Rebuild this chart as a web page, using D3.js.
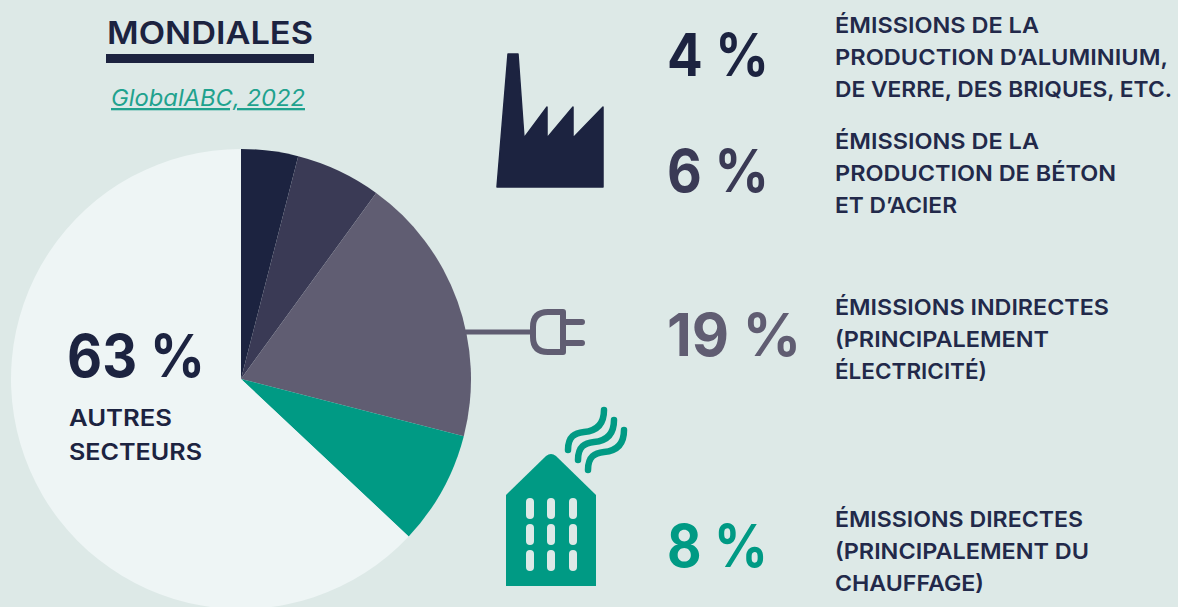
<!DOCTYPE html>
<html>
<head>
  <meta charset="utf-8" />
  <title>Émissions mondiales</title>
  <script src="https://d3js.org/d3.v7.min.js"></script>
  <style>
    html, body { margin: 0; padding: 0; background: #dde9e7; overflow: hidden; }
    svg { display: block; }
    text { font-family: Inter, sans-serif; }
  </style>
</head>
<body>
  <svg id="chart" width="1178" height="607"></svg>
  <script>
    // pie slices, clockwise from the top
    var categories = ["aluminium", "beton", "indirectes", "directes", "autres"];
    var values = [4, 6, 19, 8, 63];
    var valueLabels = ["4 %", "6 %", "19 %", "8 %"];
    var descriptions = [
      ["ÉMISSIONS DE LA", "PRODUCTION D’ALUMINIUM,", "DE VERRE, DES BRIQUES, ETC."],
      ["ÉMISSIONS DE LA", "PRODUCTION DE BÉTON", "ET D’ACIER"],
      ["ÉMISSIONS INDIRECTES", "(PRINCIPALEMENT", "ÉLECTRICITÉ)"],
      ["ÉMISSIONS DIRECTES", "(PRINCIPALEMENT DU", "CHAUFFAGE)"]
    ];
    // widths measured on the picture, so the substitute font lines up
    var descriptionWidths = [
      [204, 333, 337],
      [204, 281, 122],
      [274, 214, 152],
      [248, 254, 149]
    ];
    var colors = ["#1c2340", "#3a3a55", "#605d72", "#009a84", "#eef5f5"];

    var svg = d3.select("#chart");
    var dark = "#1c2340";
    var teal = "#009a84";

    // pie
    var pie = d3.pie().sort(null).value(function (d) { return d; });
    var arc = d3.arc().innerRadius(0).outerRadius(230);

    svg.append("g")
      .attr("transform", "translate(241,379)")
      .selectAll("path")
      .data(pie(values))
      .enter().append("path")
      .attr("d", arc)
      .attr("fill", function (d, i) { return colors[i]; });

    function fitted(x, y, size, weight, fill, width, str) {
      return svg.append("text").attr("x", x).attr("y", y)
        .attr("font-size", size).attr("font-weight", weight).attr("fill", fill)
        .attr("textLength", width).attr("lengthAdjust", "spacingAndGlyphs")
        .text(str);
    }

    // title
    fitted(107, 44, 31, 600, dark, 206, "MONDIALES");
    svg.append("rect").attr("x", 106).attr("y", 54).attr("width", 208).attr("height", 9).attr("fill", dark);
    fitted(111, 106, 23, 400, "#1fa28e", 194, "GlobalABC, 2022")
      .attr("font-style", "italic")
      .attr("text-decoration", "underline");

    // label inside the big slice
    fitted(67, 377, 59, 700, dark, 138, "63 %");
    fitted(69, 426, 22.5, 600, dark, 103, "AUTRES");
    fitted(69, 460, 22.5, 600, dark, 133, "SECTEURS");

    // percent + description rows
    var valueY = [76, 192, 356, 567];
    var textY = [33, 149, 315, 527];
    var valueW = [102, 102, 134, 101];

    valueLabels.forEach(function (label, i) {
      fitted(667, valueY[i], 59, 700, colors[i], valueW[i], label);
      descriptions[i].forEach(function (line, j) {
        fitted(835, textY[i] + j * 32, 22, 600, "#22294a", descriptionWidths[i][j], line);
      });
    });

    // factory icon
    svg.append("path")
      .attr("d", "M508 54H518L524 138L547 107V138L573 107V138L603 107V187H497Z")
      .attr("fill", dark).attr("stroke", dark).attr("stroke-width", 1.5).attr("stroke-linejoin", "round");

    // plug icon
    var plug = svg.append("g").attr("fill", "none").attr("stroke", colors[2]).attr("stroke-width", 6).attr("stroke-linecap", "round");
    plug.append("path").attr("d", "M466 332H532").attr("stroke-width", 5);
    plug.append("path").attr("d", "M563 312H548Q533 312 533 327V337Q533 352 548 352H563Z").attr("stroke-linejoin", "round");
    plug.append("path").attr("d", "M566 322H582M566 343H582");

    // building icon
    svg.append("path")
      .attr("d", "M506 495L546 456Q551 452 556 456L596 495V586H506Z")
      .attr("fill", teal);
    var winX = [526, 547, 569];
    var winY = [498, 524, 550];
    winX.forEach(function (x) {
      winY.forEach(function (y) {
        svg.append("rect").attr("x", x).attr("y", y).attr("width", 8).attr("height", 21).attr("rx", 4).attr("fill", "#dde9e7");
      });
    });

    // smoke
    [0, 10, 20].forEach(function (o) {
      svg.append("path")
        .attr("transform", "translate(" + o + "," + o + ")")
        .attr("d", "M568 450C568 436 575 433 584 432C596 431 604 425 604 410")
        .attr("fill", "none").attr("stroke", teal).attr("stroke-width", 6.5).attr("stroke-linecap", "round");
    });
  </script>
</body>
</html>
